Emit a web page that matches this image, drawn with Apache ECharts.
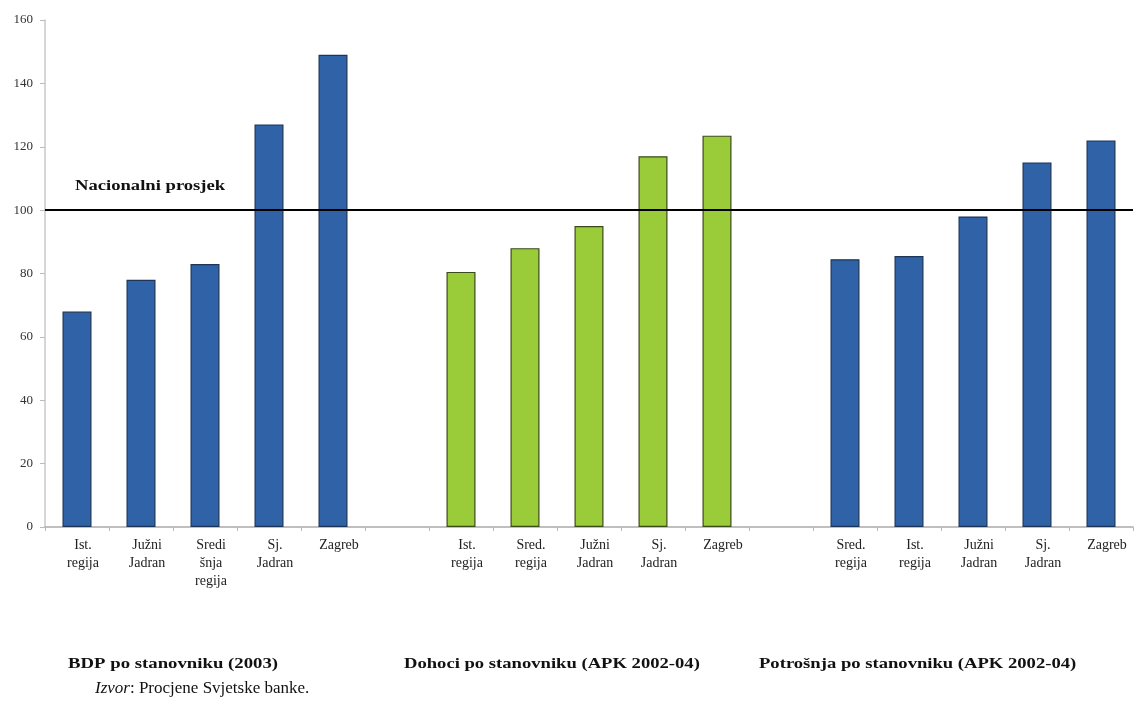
<!DOCTYPE html>
<html>
<head>
<meta charset="utf-8">
<script src="https://cdn.jsdelivr.net/npm/echarts@6/dist/echarts.min.js"></script>
<style>
html,body{margin:0;padding:0;background:#fff;}
#c{width:1146px;height:720px;}
</style>
</head>
<body>
<div id="c"></div>
<script>
// Data
const gdpCats = ['Ist.\nregija', 'Južni\nJadran', 'Sredi\nšnja\nregija', 'Sj.\nJadran', 'Zagreb'];
const gdpValues = [68, 78, 83, 127, 149];
const incomeCats = ['Ist.\nregija', 'Sred.\nregija', 'Južni\nJadran', 'Sj.\nJadran', 'Zagreb'];
const incomeValues = [80.5, 88, 95, 117, 123.5];
const consCats = ['Sred.\nregija', 'Ist.\nregija', 'Južni\nJadran', 'Sj.\nJadran', 'Zagreb'];
const consValues = [84.5, 85.5, 98, 115, 122];
const groupTitles = ['BDP po stanovniku (2003)', 'Dohoci po stanovniku (APK 2002-04)', 'Potrošnja po stanovniku (APK 2002-04)'];
const nationalAverage = 100;

const BLUE = '#2f62a6', BLUE_B = '#1d3557';
const GREEN = '#9acb38', GREEN_B = '#3b4a1c';

const cats = [...gdpCats, '', ...incomeCats, ' ', ...consCats];
const data = [];
gdpValues.forEach(v => data.push({value: v, itemStyle: {color: BLUE, borderColor: BLUE_B}}));
data.push('-');
incomeValues.forEach(v => data.push({value: v, itemStyle: {color: GREEN, borderColor: GREEN_B}}));
data.push('-');
consValues.forEach(v => data.push({value: v, itemStyle: {color: BLUE, borderColor: BLUE_B}}));

const serif = '"Liberation Serif", "DejaVu Serif", serif';
const chart = echarts.init(document.getElementById('c'));
chart.setOption({
  backgroundColor: '#fff',
  animation: false,
  grid: {left: 45, right: 13, top: 20, bottom: 193, containLabel: false},
  xAxis: {
    type: 'category',
    data: cats,
    axisLine: {lineStyle: {color: '#aaa', width: 1.5}},
    axisTick: {show: true, interval: 0, length: 4, lineStyle: {color: '#bbb'}},
    axisLabel: {interval: 0, color: '#222', fontFamily: serif, fontSize: 14, lineHeight: 18, margin: 9, padding: [0, 0, 0, 12]}
  },
  yAxis: {
    type: 'value',
    min: 0, max: 160, interval: 20,
    splitLine: {show: false},
    axisLine: {show: true, lineStyle: {color: '#c8c8c8', width: 1.5}},
    axisTick: {show: true, length: 5, lineStyle: {color: '#bbb'}},
    axisLabel: {color: '#333', fontFamily: serif, fontSize: 13, margin: 12}
  },
  series: [{
    type: 'bar',
    data: data,
    barWidth: 29,
    itemStyle: {borderWidth: 1.2},
    markLine: {
      silent: true,
      symbol: 'none',
      label: {show: false},
      lineStyle: {color: '#000', width: 2, type: 'solid'},
      data: [{yAxis: nationalAverage}]
    }
  }],
  graphic: [
    {type: 'text', x: 75, y: 179, scaleX: 1.33, style: {text: 'Nacionalni prosjek', font: 'bold 14px ' + serif, fill: '#111'}},
    {type: 'text', x: 68, y: 657, scaleX: 1.34, style: {text: groupTitles[0], font: 'bold 14px ' + serif, fill: '#111'}},
    {type: 'text', x: 404, y: 657, scaleX: 1.33, style: {text: groupTitles[1], font: 'bold 14px ' + serif, fill: '#111'}},
    {type: 'text', x: 759, y: 657, scaleX: 1.33, style: {text: groupTitles[2], font: 'bold 14px ' + serif, fill: '#111'}},
    {type: 'text', x: 95, y: 680, style: {
      text: '{i|Izvor}{n|: Procjene Svjetske banke.}',
      rich: {i: {font: 'italic 17px ' + serif, fill: '#111'}, n: {font: '17px ' + serif, fill: '#111'}}
    }}
  ]
});
</script>
</body>
</html>
